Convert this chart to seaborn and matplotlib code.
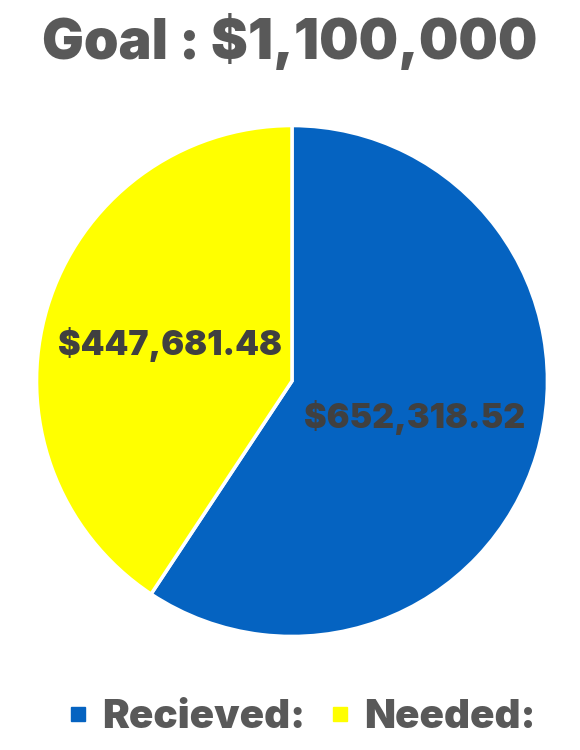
import matplotlib
matplotlib.use("Agg")
import matplotlib.pyplot as plt
from matplotlib import font_manager
from matplotlib.lines import Line2D
import seaborn as sns

categories = ["Recieved:", "Needed:"]
amounts = [652318.52, 447681.48]
goal = 1100000
colors = ["#0563C1", "#FFFF00"]

sns.set_theme(style="white")

# look for a heavy (black) face, Arial Black-like
heavy = None
for f in font_manager.fontManager.ttflist:
    w = f.weight if isinstance(f.weight, int) else 400
    if w >= 800 and f.name in ("Lato", "Roboto", "Inter", "Open Sans", "Noto Sans"):
        heavy = (f.name, w)
        break
if heavy:
    family, weight = heavy
else:
    family, weight = "DejaVu Sans", "bold"
plt.rcParams["font.family"] = [family, "DejaVu Sans"]
text_color = "#595959"

fig = plt.figure(figsize=(5.8, 7.5), dpi=100)
ax = fig.add_axes([34 / 580, 111 / 750, 516 / 580, 516 / 750])

wedges, texts, autotexts = ax.pie(
    amounts, colors=colors, startangle=90, counterclock=False,
    autopct="%1.1f", pctdistance=0.5, radius=1,
    wedgeprops=dict(edgecolor="white", linewidth=2.5),
    textprops=dict(color="#404040", fontsize=24.5, fontweight=weight))
for t, v in zip(autotexts, amounts):
    t.set_text("${:,.2f}".format(v))
ax.set_xlim(-1.01, 1.01)
ax.set_ylim(-1.01, 1.01)
ax.set_aspect("equal")
ax.axis("off")

fig.text(0.5, 0.945, "Goal : ${:,}".format(goal), ha="center", va="center",
         fontsize=40, fontweight=weight, color=text_color)

handles = [Line2D([0], [0], marker="s", linestyle="", markersize=10,
                  markerfacecolor=c, markeredgecolor=c) for c in colors]
leg = fig.legend(handles, categories, loc="center", bbox_to_anchor=(0.52, 0.043),
                 ncol=2, frameon=False, handletextpad=0.35, handlelength=0.5,
                 columnspacing=0.6, prop=dict(size=29, weight=weight))
for t in leg.get_texts():
    t.set_color(text_color)

fig.savefig("out.png", dpi=100, facecolor="white")
